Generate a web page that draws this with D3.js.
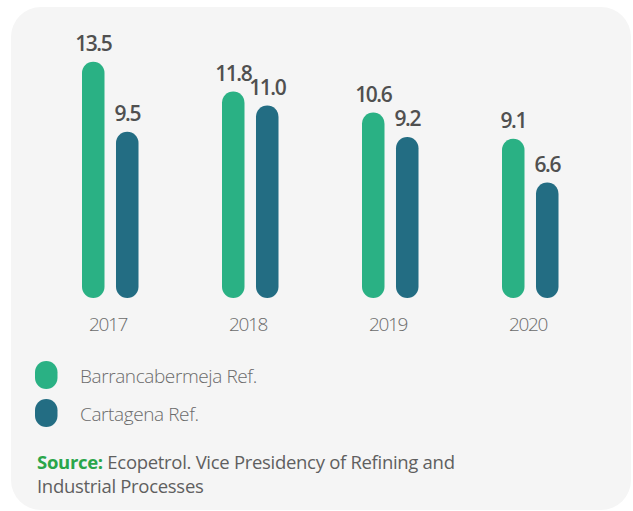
<!DOCTYPE html>
<html>
<head>
<meta charset="utf-8">
<script src="https://cdn.jsdelivr.net/npm/d3@7"></script>
<style>
  body { margin:0; background:#fff; }
  text { font-family:"Open Sans", sans-serif; }
</style>
</head>
<body>
<div id="canvas"></div>
<script>
// data
var years = ['2017','2018','2019','2020'];
var series = ['Barrancabermeja Ref.','Cartagena Ref.'];
var barranca = [13.5, 11.8, 10.6, 9.1];
var cartagena = [9.5, 11.0, 9.2, 6.6];
var colors = ['#2ab184','#236d83'];

var W = 633, H = 511;

var svg = d3.select('#canvas')
    .append('svg')
    .attr('width',W)
    .attr('height',H);

// grey card behind everything
svg.append('rect')
    .attr('x',11).attr('y',7)
    .attr('width',620).attr('height',503)
    .attr('rx',30)
    .style('fill','#f5f5f5');

var scaleX = d3.scaleBand()
    .domain(years)
    .range([40,600]);

var scaleSub = d3.scaleBand()
    .domain(series)
    .range([42,98.5])
    .paddingInner(0.338);

var scaleY = d3.scaleLinear()
    .domain([0,14])
    .range([298,53]);

var values = [barranca, cartagena];

series.forEach(function(s,j){
    var g = svg.append('g');
    var bw = scaleSub.bandwidth();

    g.selectAll('rect')
        .data(values[j])
        .enter()
        .append('rect')
        .attr('x',function(d,i){ return scaleX(years[i]) + scaleSub(s); })
        .attr('y',function(d){ return scaleY(d); })
        .attr('width',bw)
        .attr('height',function(d){ return scaleY(0) - scaleY(d); })
        .attr('rx',bw/2)
        .style('fill',colors[j]);

    g.selectAll('text')
        .data(values[j])
        .enter()
        .append('text')
        .attr('x',function(d,i){ return scaleX(years[i]) + scaleSub(s) + bw/2; })
        .attr('y',function(d){ return scaleY(d) - 11; })
        .attr('text-anchor','middle')
        .style('font-size','21px')
        .style('font-weight',600)
        .style('letter-spacing','-1.4px')
        .style('fill','#505050')
        .text(function(d){ return d.toFixed(1); });
});

// year labels
svg.append('g').selectAll('text')
    .data(years)
    .enter()
    .append('text')
    .attr('x',function(d){ return scaleX(d) + scaleX.bandwidth()/2 - 2; })
    .attr('y',331)
    .attr('text-anchor','middle')
    .style('font-size','19px')
    .style('font-weight',300)
    .style('letter-spacing','-1.3px')
    .style('fill','#6b6b6b')
    .text(function(d){ return d; });

// legend
var legend = svg.append('g');
series.forEach(function(s,j){
    var ly = 361 + j*38;
    legend.append('rect')
        .attr('x',35).attr('y',ly)
        .attr('width',22.5).attr('height',28)
        .attr('rx',11.25)
        .style('fill',colors[j]);
    legend.append('text')
        .attr('x',80).attr('y',ly+22)
        .style('font-size','19px')
        .style('font-weight',300)
        .style('letter-spacing','-0.4px')
        .style('fill','#6b6b6b')
        .text(s);
});

// source note
var src = svg.append('text')
    .attr('x',37).attr('y',469)
    .style('font-size','18.5px')
    .style('letter-spacing','-0.3px')
    .style('fill','#5f5f5f');
src.append('tspan')
    .style('font-weight',700)
    .style('fill','#2aa64a')
    .text('Source:');
src.append('tspan')
    .text(' Ecopetrol. Vice Presidency of Refining and');
svg.append('text')
    .attr('x',37).attr('y',492.5)
    .style('font-size','18.5px')
    .style('letter-spacing','-0.3px')
    .style('fill','#5f5f5f')
    .text('Industrial Processes');
</script>
</body>
</html>
